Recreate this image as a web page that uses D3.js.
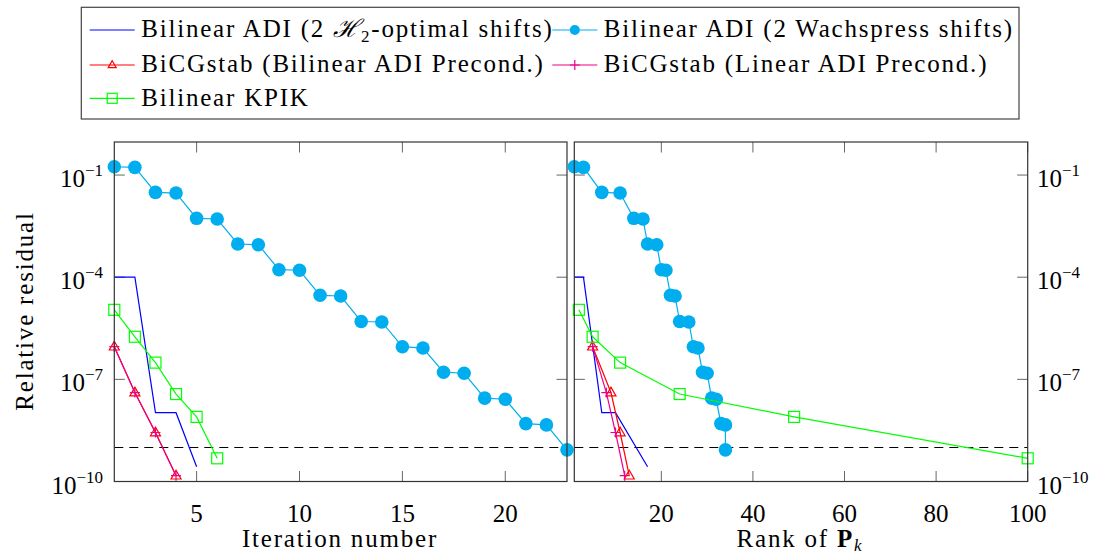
<!DOCTYPE html>
<html><head><meta charset="utf-8">
<script src="https://cdn.jsdelivr.net/npm/d3@7"></script>
<style>body{margin:0;background:#fff}svg{display:block}</style>
</head><body>
<svg id="c" width="1101" height="556" font-family="'Liberation Serif', 'DejaVu Serif', serif"></svg>
<script>
// ---- data ----
const iterWach = [1,2,3,4,5,6,7,8,9,10,11,12,13,14,15,16,17,18,19,20,21,22,23];
const rankWach = [1,3,7,11,14,16,17,19,20,21,22,23,24,26,27,28,29,30,31,32,33,34,34];
const resWach = [0.175,0.168,0.031,0.0296,5.36e-3,5.12e-3,9.44e-4,9.0e-4,1.66e-4,1.6e-4,2.94e-5,2.8e-5,5.0e-6,4.84e-6,9.1e-7,8.3e-7,1.62e-7,1.51e-7,2.8e-8,2.6e-8,5.0e-9,4.6e-9,8.5e-10];

const iterH2 = [1,2,3,4,5];
const rankH2 = [1,3,7,10,17];
const resH2 = [1e-4,1e-4,1.05e-8,1.05e-8,2.7e-10];

const iterBil = [1,2,3,4];
const rankBil = [5,9,11,13];
const resBil = [9.1e-7,4.1e-8,2.75e-9,1.48e-10];

const iterLin = [1,2,3,4];
const rankLin = [5,8,10,12];
const resLin = [9.1e-7,4.1e-8,2.75e-9,1.48e-10];

const iterKpik = [1,2,3,4,5,6];
const rankKpik = [2,5,11,24,49,100];
const resKpik = [1.1e-5,1.78e-6,3.1e-7,3.7e-8,7.9e-9,4.8e-10];

const tolerance = 1e-9;
const yTicks = [1e-1,1e-4,1e-7,1e-10];
const yTickExp = ["−1","−4","−7","−10"];
const leftXTicks = [5,10,15,20];
const rightXTicks = [20,40,60,80,100];

const legendLabels = ["Bilinear ADI (2 ", "Bilinear ADI (2 Wachspress shifts)", "BiCGstab (Bilinear ADI Precond.)", "BiCGstab (Linear ADI Precond.)", "Bilinear KPIK"];

// ---- layout ----
const svg = d3.select("#c");
const FS = 25, LS = 1.8;
const plotTop = 142, plotBottom = 481.5;
const y = d3.scaleLog().domain([1e-10, 1]).range([plotBottom, 141]);
const xL = d3.scaleLinear().domain([1, 23]).range([114.3, 567]);
const xR = d3.scaleLinear().domain([1, 100]).range([574.3, 1027.7]);

const C = {blue:"#0000ff", cyan:"#00aeef", red:"#ff0000", pink:"#ec008c", green:"#00ff00"};

function triPath(s){const h=s*0.87;return `M0,${-h*0.62}L${s/2},${h*0.38}L${-s/2},${h*0.38}Z`;}

function drawPanel(x, series, xticks, side){
  const g = svg.append("g");
  const [x0,x1] = x.range();
  const TL = 10.5;
  const tk = g.append("g").attr("stroke","#666").attr("stroke-width",1);
  xticks.forEach(t=>{
    tk.append("line").attr("x1",x(t)).attr("x2",x(t)).attr("y1",plotBottom).attr("y2",plotBottom-TL);
    tk.append("line").attr("x1",x(t)).attr("x2",x(t)).attr("y1",plotTop).attr("y2",plotTop+TL);
    g.append("text").attr("x",x(t)).attr("y",522).attr("text-anchor","middle").attr("font-size",FS).text(t);
  });
  yTicks.forEach((t,i)=>{
    tk.append("line").attr("x1",x0).attr("x2",x0+TL).attr("y1",y(t)).attr("y2",y(t));
    tk.append("line").attr("x1",x1).attr("x2",x1-TL).attr("y1",y(t)).attr("y2",y(t));
    const tx = g.append("text").attr("font-size",FS).attr("y",y(t)+12)
      .attr("x", side==="left"?103:1037).attr("text-anchor", side==="left"?"end":"start");
    tx.append("tspan").text("10");
    tx.append("tspan").attr("font-size",17).attr("dy",-11).text(yTickExp[i]);
  });
  g.append("line").attr("x1",x0).attr("x2",x1).attr("y1",y(tolerance)).attr("y2",y(tolerance))
    .attr("stroke","#000").attr("stroke-width",1.1).attr("stroke-dasharray","9,6");
  series.forEach(s=>{
    const pts = s.xs.map((v,i)=>[x(v), y(s.ys[i])]);
    g.append("path").attr("d", d3.line()(pts)).attr("fill","none").attr("stroke",s.color).attr("stroke-width",1.2);
    pts.forEach(p=>{
      if(s.mark==="circle") g.append("circle").attr("cx",p[0]).attr("cy",p[1]).attr("r",6.8).attr("fill",s.color);
      else if(s.mark==="tri") g.append("path").attr("d",triPath(10)).attr("transform",`translate(${p[0]},${p[1]})`).attr("fill","none").attr("stroke",s.color).attr("stroke-width",1.2);
      else if(s.mark==="plus") g.append("path").attr("d","M-5,0H5M0,-5V5").attr("transform",`translate(${p[0]},${p[1]})`).attr("stroke",s.color).attr("stroke-width",1.2);
      else if(s.mark==="square") g.append("rect").attr("x",p[0]-5.5).attr("y",p[1]-5.5).attr("width",11).attr("height",11).attr("fill","none").attr("stroke",s.color).attr("stroke-width",1.2);
    });
  });
  g.append("rect").attr("x",x0).attr("y",plotTop).attr("width",x1-x0).attr("height",plotBottom-plotTop)
    .attr("fill","none").attr("stroke","#333").attr("stroke-width",1.2);
}

drawPanel(xL, [
  {xs:iterH2, ys:resH2, color:C.blue, mark:null},
  {xs:iterWach, ys:resWach, color:C.cyan, mark:"circle"},
  {xs:iterBil, ys:resBil, color:C.red, mark:"tri"},
  {xs:iterLin, ys:resLin, color:C.pink, mark:"plus"},
  {xs:iterKpik, ys:resKpik, color:C.green, mark:"square"}
], leftXTicks, "left");

drawPanel(xR, [
  {xs:rankH2, ys:resH2, color:C.blue, mark:null},
  {xs:rankWach, ys:resWach, color:C.cyan, mark:"circle"},
  {xs:rankBil, ys:resBil, color:C.red, mark:"tri"},
  {xs:rankLin, ys:resLin, color:C.pink, mark:"plus"},
  {xs:rankKpik, ys:resKpik, color:C.green, mark:"square"}
], rightXTicks, "right");

svg.append("text").attr("transform","translate(33,311) rotate(-90)").attr("text-anchor","middle").attr("font-size",FS).attr("letter-spacing",LS).text("Relative residual");
svg.append("text").attr("x",340).attr("y",547).attr("text-anchor","middle").attr("font-size",FS).attr("letter-spacing",LS).text("Iteration number");
const rk = svg.append("text").attr("x",800).attr("y",547).attr("text-anchor","middle").attr("font-size",FS).attr("letter-spacing",LS);
rk.append("tspan").text("Rank of ");
rk.append("tspan").attr("font-weight","bold").text("P");
rk.append("tspan").attr("font-style","italic").attr("font-size",17).attr("dy",4).text("k");

const lg = svg.append("g");
lg.append("rect").attr("x",81.3).attr("y",7.3).attr("width",1019-81.3).attr("height",119-7.3).attr("fill","#fff").attr("stroke","#444").attr("stroke-width",1.2);
const entries = [
  {col:0,row:0,color:C.blue,mark:null},
  {col:1,row:0,color:C.cyan,mark:"circle"},
  {col:0,row:1,color:C.red,mark:"tri"},
  {col:1,row:1,color:C.pink,mark:"plus"},
  {col:0,row:2,color:C.green,mark:"square"}
];
const rowY = [30,65,98.3];
const colX = [89.7,552.3];
entries.forEach((e,i)=>{
  const lx = colX[e.col], ly = rowY[e.row], cx = lx+22.5;
  lg.append("line").attr("x1",lx).attr("x2",lx+45).attr("y1",ly).attr("y2",ly).attr("stroke",e.color).attr("stroke-width",1.2);
  if(e.mark==="circle") lg.append("circle").attr("cx",cx).attr("cy",ly).attr("r",5).attr("fill",e.color);
  else if(e.mark==="tri") lg.append("path").attr("d",triPath(8)).attr("transform",`translate(${cx},${ly})`).attr("fill","none").attr("stroke",e.color).attr("stroke-width",1.2);
  else if(e.mark==="plus") lg.append("path").attr("d","M-5,0H5M0,-5V5").attr("transform",`translate(${cx},${ly})`).attr("stroke",e.color).attr("stroke-width",1.2);
  else if(e.mark==="square") lg.append("rect").attr("x",cx-5).attr("y",ly-5).attr("width",10).attr("height",10).attr("fill","none").attr("stroke",e.color).attr("stroke-width",1.2);
  const t = lg.append("text").attr("x",lx+51.5).attr("y",ly+7.3).attr("font-size",FS).attr("letter-spacing",LS);
  if(i===0){
    t.append("tspan").text(legendLabels[0]);
    t.append("tspan").attr("font-style","italic").text("ℋ");
    t.append("tspan").attr("font-size",17).attr("dy",5).text("2");
    t.append("tspan").attr("dy",-5).text("-optimal shifts)");
  } else t.text(legendLabels[i]);
});
</script>
</body></html>
